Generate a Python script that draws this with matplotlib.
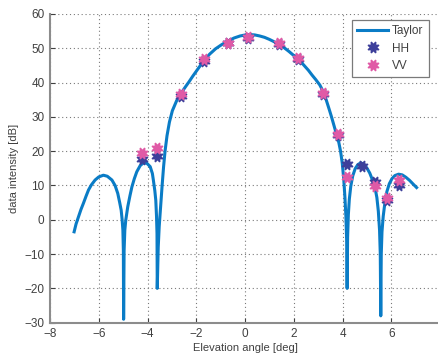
import matplotlib

matplotlib.use("Agg")

import matplotlib.pyplot as plt
import numpy as np


# Taylor pattern (elevation deg, dB)
taylor_x = [
    -7.01, -6.93, -6.83, -6.73, -6.63, -6.52, -6.42, -6.30, -6.15, -6.00,
    -5.81, -5.65, -5.46, -5.33, -5.22, -5.14, -5.08, -5.04, -5.01, -4.99,
    -4.98, -4.96, -4.93, -4.89, -4.81, -4.72, -4.64, -4.54, -4.44, -4.30,
    -4.17, -4.03, -3.89, -3.80, -3.76, -3.70, -3.66, -3.63, -3.61, -3.60,
    -3.56, -3.52, -3.46, -3.40, -3.34, -3.28, -3.20, -3.10, -2.98, -2.80,
    -2.62, -2.45, -2.30, -2.15, -2.00, -1.84, -1.68, -1.45, -1.20, -0.95,
    -0.70, -0.45, -0.20, 0.05, 0.20, 0.40, 0.60, 0.80, 1.00, 1.20,
    1.40, 1.60, 1.80, 2.00, 2.20, 2.40, 2.60, 2.75, 2.90, 3.07,
    3.20, 3.33, 3.45, 3.55, 3.65, 3.75, 3.85, 3.92, 3.99, 4.05,
    4.10, 4.14, 4.17, 4.19, 4.21, 4.24, 4.28, 4.34, 4.42, 4.52,
    4.63, 4.75, 4.88, 5.00, 5.12, 5.23, 5.33, 5.41, 5.47, 5.52,
    5.55, 5.57, 5.59, 5.62, 5.67, 5.74, 5.82, 5.92, 6.03, 6.15,
    6.30, 6.45, 6.60, 6.75, 6.90, 7.04,
]
taylor_db = [
    -3.5, -1.2, 0.9, 3.0, 4.8, 6.9, 8.7, 10.2, 11.6, 12.5,
    13.0, 12.7, 11.6, 10.0, 7.7, 5.0, 2.8, 0.0, -3.0, -9.0,
    -29.0, -9.0, -3.0, 0.0, 3.8, 7.0, 9.6, 12.0, 14.0, 15.8,
    16.6, 16.5, 15.5, 13.5, 11.6, 8.5, 5.7, 1.0, -4.0, -20.0,
    -8.0, -2.0, 4.0, 10.0, 15.5, 20.0, 24.5, 28.5, 31.8, 34.8,
    36.9, 38.7, 40.2, 41.8, 43.3, 44.9, 46.4, 48.3, 49.9, 51.1,
    52.1, 53.0, 53.6, 53.95, 54.0, 53.9, 53.6, 53.2, 52.6, 51.9,
    51.1, 50.2, 49.1, 47.9, 46.7, 45.2, 43.6, 42.2, 40.9, 39.3,
    37.5, 35.0, 32.3, 30.0, 27.5, 25.0, 22.5, 20.0, 16.5, 12.0,
    6.5, 1.0, -6.0, -20.0, -5.0, 1.5, 6.0, 9.8, 12.8, 14.9,
    16.1, 16.6, 16.2, 15.1, 13.6, 11.6, 9.5, 6.5, 2.5, -3.0,
    -10.0, -28.0, -10.0, -3.5, 1.0, 5.0, 8.2, 10.5, 12.0, 12.9,
    13.3, 13.1, 12.4, 11.5, 10.4, 9.4,
]

# measured points
meas_x = [-4.23, -3.59, -2.62, -1.68, -0.68, 0.11, 1.41, 2.18,
          3.21, 3.82, 4.20, 4.81, 5.33, 5.81, 6.31]
hh_db = [17.6, 18.6, 36.0, 46.4, 51.4, 53.0, 51.2, 47.0,
         36.8, 24.6, 16.4, 15.7, 11.1, 5.7, 10.1]
vv_db = [19.4, 21.0, 36.6, 46.8, 51.6, 53.2, 51.4, 47.3,
         37.1, 25.0, 12.5, np.nan, 9.8, 6.5, 11.6]

x_ticks = [-8, -6, -4, -2, 0, 2, 4, 6]
y_ticks = [-30, -20, -10, 0, 10, 20, 30, 40, 50, 60]

LINE_COLOR = "#0a7cc6"
HH_COLOR = "#3d3f9a"
VV_COLOR = "#e05aa6"
TEXT_COLOR = "#404040"
AXIS_COLOR = "#8c8c8c"

plt.rcParams["font.family"] = ["Liberation Sans", "DejaVu Sans"]
plt.rcParams["font.size"] = 8

fig = plt.figure(figsize=(4.38, 3.58), dpi=100)
ax = fig.add_axes([50 / 438, 1 - 322.7 / 358, 390 / 438, 308.7 / 358])

ax.plot(taylor_x, taylor_db, color=LINE_COLOR, lw=2.2,
        solid_joinstyle="round", label="Taylor", zorder=2)
star = (8, 1, 22.5)
ax.plot(meas_x, hh_db, ls="none", marker=star, ms=8.5, mfc=HH_COLOR,
        mec=HH_COLOR, mew=1.0, label="HH", zorder=3)
ax.plot(meas_x, vv_db, ls="none", marker=star, ms=8.5, mfc=VV_COLOR,
        mec=VV_COLOR, mew=1.0, label="VV", zorder=4)

ax.set_xlim(-8, 8)
ax.set_ylim(-30, 60)
ax.set_xticks(x_ticks)
ax.set_yticks(y_ticks)
ax.grid(True, color="#7a7a7a", ls=(0, (1, 2.5)), lw=0.8)
ax.set_axisbelow(True)

for side in ["top", "right"]:
    ax.spines[side].set_visible(False)
for side in ["left", "bottom"]:
    ax.spines[side].set_color(AXIS_COLOR)
    ax.spines[side].set_linewidth(1.5)
ax.tick_params(direction="in", length=3.5, width=0.8, color=TEXT_COLOR,
               labelcolor=TEXT_COLOR, labelsize=8.5, pad=4)

ax.set_xlabel("Elevation angle [deg]", color=TEXT_COLOR, fontsize=8, labelpad=2)
ax.set_ylabel("data intensity [dB]", color=TEXT_COLOR, fontsize=8, labelpad=4)

leg = ax.legend(loc="upper left", bbox_to_anchor=((352 - 50) / 390, 1 - 6 / 308.7),
                borderaxespad=0, fancybox=False, framealpha=1, edgecolor="#7a7a7a",
                fontsize=8.5, handlelength=2.6, borderpad=0.45, labelspacing=0.45,
                handletextpad=0.35)
leg.get_frame().set_linewidth(0.9)
for text in leg.get_texts():
    text.set_color(TEXT_COLOR)

fig.savefig("out.png", dpi=100)
